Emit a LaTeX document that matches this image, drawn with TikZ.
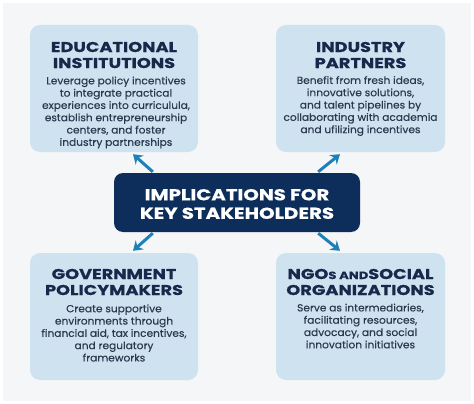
\documentclass[tikz,border=0pt]{standalone}
\usepackage{fontspec}
\setmainfont{Poppins}
\newfontfamily\titlefont{Poppins}[FakeStretch=1.25,FakeBold=0.6]
\newfontfamily\bodyfont{Poppins}[FakeStretch=1.04,FakeBold=0.3]
\usetikzlibrary{arrows.meta}
\definecolor{boxfill}{HTML}{CFE2F0}
\definecolor{navy}{HTML}{0D2D5B}
\definecolor{titlecol}{HTML}{16294B}
\definecolor{bodycol}{HTML}{2A394E}
\definecolor{arrowcol}{HTML}{1F80B8}
\definecolor{panel}{HTML}{F4F6F8}
\tikzset{
  x=1pt, y=-1pt,
  stakebox/.style={fill=boxfill, rounded corners=10pt, minimum width=168pt, minimum height=127pt, inner sep=0pt},
  centerbox/.style={fill=navy, rounded corners=9pt, minimum width=246pt, minimum height=59pt, inner sep=0pt},
  boxtitle/.style={text=titlecol, align=center, inner sep=0pt, font=\titlefont\bfseries\fontsize{14.2}{16}\selectfont},
  boxbody/.style={text=bodycol, align=center, inner sep=0pt, font=\bodyfont\fontsize{10.2}{12.3}\selectfont},
  centertext/.style={text=white, align=center, inner sep=0pt, font=\titlefont\bfseries\fontsize{15.8}{18.5}\selectfont},
  arr/.style={draw=arrowcol, line width=3pt, -{Stealth[length=9pt,width=12pt,inset=3pt]}}
}
\begin{document}
\begin{tikzpicture}
\useasboundingbox (0,0) rectangle (474,404);
\fill[white] (0,0) rectangle (474,404);
\fill[panel] (3,3) rectangle (471,401);

\node[stakebox] (edu) at (114,88.5) {};
\node[stakebox, minimum width=169pt] (ind) at (360.5,88.5) {};
\node[stakebox] (gov) at (114,316.5) {};
\node[stakebox, minimum width=169pt] (ngo) at (360.5,316.5) {};
\node[centerbox] (ctr) at (237,202.5) {};

\node[centertext] (ctrtext) at (237,204) {IMPLICATIONS FOR\\KEY STAKEHOLDERS};

\node[boxtitle] (edutitle) at (114,55) {EDUCATIONAL\\INSTITUTIONS};
\node[boxbody] (edubody) at (116,112.5) {Leverage policy incentives\\to integrate practical\\experiences into curriculula,\\establish entrepreneurship\\centers, and foster\\industry partnerships};

\node[boxtitle] (indtitle) at (360.5,55) {INDUSTRY\\PARTNERS};
\node[boxbody] (indbody) at (360.5,106) {Benefit from fresh ideas,\\innovative solutions,\\and talent pipelines by\\collaborating with academia\\and ufilizing incentives};

\node[boxtitle] (govtitle) at (114,282) {GOVERNMENT\\POLICYMAKERS};
\node[boxbody] (govbody) at (114,333) {Create supportive\\environments through\\financial aid, tax incentives,\\and regulatory\\frameworks};

\node[boxtitle] (ngotitle) at (360.5,282) {NGO{\fontsize{10.5}{16}\selectfont S AND}SOCIAL\\ORGANIZATIONS};
\node[boxbody] (ngobody) at (360.5,326) {Serve as intermediaries,\\facilitating resources,\\advocacy, and social\\innovation initiatives};

\draw[arr] ([xshift=39pt,yshift=1pt]ctr.north west) -- ([xshift=19pt,yshift=-2pt]edu.south);
\draw[arr] ([xshift=-42pt,yshift=1pt]ctr.north east) -- ([xshift=-20.5pt,yshift=-2pt]ind.south);
\draw[arr] ([xshift=39pt,yshift=-1pt]ctr.south west) -- ([xshift=19pt,yshift=2pt]gov.north);
\draw[arr] ([xshift=-42pt,yshift=-1pt]ctr.south east) -- ([xshift=-20.5pt,yshift=2pt]ngo.north);
\end{tikzpicture}
\end{document}
